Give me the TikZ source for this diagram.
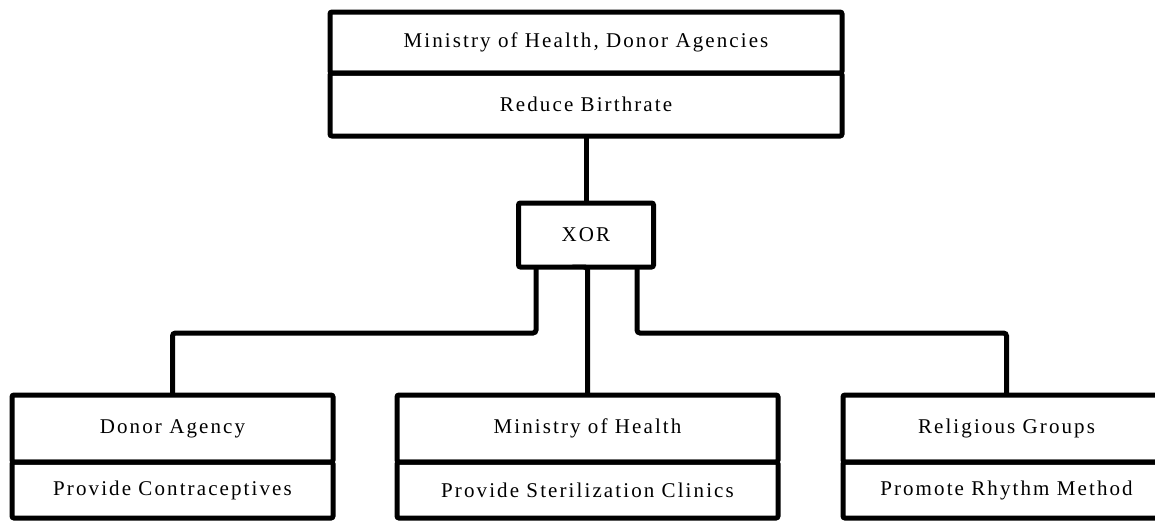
\documentclass[tikz,border=0pt]{standalone}
\usepackage{fontspec}
\setmainfont{Liberation Serif}[LetterSpace=10]
\usetikzlibrary{positioning}

\begin{document}
\begin{tikzpicture}[x=1pt, y=-1pt,
  rule/.style={line width=5pt, black},
  cell/.style={draw, rule, rectangle, inner sep=0pt, outer sep=0pt,
    font=\fontsize{21}{25}\selectfont, rounded corners=2pt},
  link/.style={rule, rounded corners=3pt}]
  \useasboundingbox (0,0) rectangle (1155,522);
  \clip (0,0) rectangle (1155,522);

  % goal at the top
  \node[cell, minimum width=512pt, minimum height=61pt] (goalA) at (586,42.5)
    {Ministry of Health, Donor Agencies};
  \node[cell, minimum width=512pt, minimum height=63pt, below=0pt of goalA] (goalB)
    {Reduce Birthrate};

  % exclusive-or gate
  \node[cell, minimum width=135pt, minimum height=64pt] (xor) at (586,235) {XOR};

  % three alternative actors
  \node[cell, minimum width=321pt, minimum height=67pt] (dA) at (172.5,428.5) {Donor Agency};
  \node[cell, minimum width=321pt, minimum height=56pt, below=0pt of dA] (dB)
    {Provide Contraceptives};

  \node[cell, minimum width=381pt, minimum height=67pt] (mA) at (587.5,428.5) {Ministry of Health};
  \node[cell, minimum width=381pt, minimum height=56pt, below=0pt of mA] (mB)
    {Provide Sterilization Clinics};

  \node[cell, minimum width=327pt, minimum height=67pt] (rA) at (1006.5,428.5) {Religious Groups};
  \node[cell, minimum width=327pt, minimum height=56pt, below=0pt of rA] (rB)
    {Promote Rhythm Method};

  % connectors
  \coordinate (bus) at (0,333);
  \draw[link] (goalB.south -| xor.north) -- (xor.north);
  \draw[link] ([xshift=-50pt]xor.south) -- ([xshift=-50pt]xor.south |- bus) -| (dA.north);
  \draw[link] (xor.south) -- (xor.south -| mA.north) -- (mA.north);
  \draw[link] ([xshift=51pt]xor.south) -- ([xshift=51pt]xor.south |- bus) -| (rA.north);
\end{tikzpicture}
\end{document}
